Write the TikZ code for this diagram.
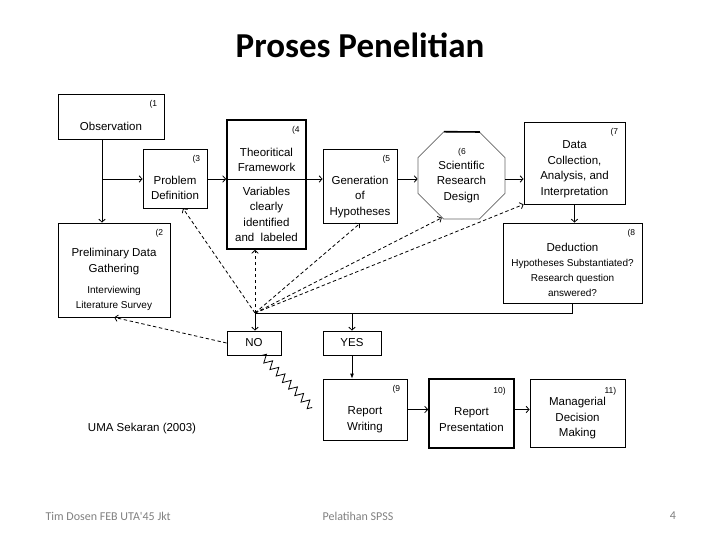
\documentclass[tikz,border=0pt]{standalone}
\usepackage{fontspec}
\setmainfont{Liberation Sans}
\newfontfamily\slidefont{Carlito}
\usetikzlibrary{arrows.meta,shapes.geometric,decorations.pathmorphing}

\begin{document}
\begin{tikzpicture}[
  x=1pt,y=-1pt,
  >={Straight Barb[length=3pt,width=6.5pt]},
  box/.style={draw,line width=0.8pt,inner sep=0pt},
  txt/.style={align=center,inner sep=0pt,font=\fontsize{11.5}{15.5}\selectfont},
  sm/.style={align=center,inner sep=0pt,font=\fontsize{10}{15}\selectfont},
  num/.style={inner sep=0pt,font=\fontsize{8.5}{9}\selectfont},
  arc/.style={->,line width=0.8pt},
  dsh/.style={->,line width=0.8pt,dash pattern=on 3.5pt off 2.5pt},
  foot/.style={font=\slidefont\fontsize{12}{14}\selectfont,text=black!50}
]
\useasboundingbox (0,0) rectangle (720,540);
% title and footer
\node[font=\slidefont\bfseries\fontsize{35}{40}\selectfont] (title) at (360,45) {Proses Penelitian};
\node[foot,anchor=west] (f1) at (42,516) {Tim Dosen FEB UTA'45 Jkt};
\node[foot] (f2) at (358,516) {Pelatihan SPSS};
\node[foot] (f3) at (673,516) {4};

% boxes
\node[box,minimum width=105.5pt,minimum height=45pt] (obs) at (111.25,116.5) {};
\node[box,minimum width=111.5pt,minimum height=94pt] (pre) at (114.25,270) {};
\node[box,minimum width=64pt,minimum height=59pt] (prob) at (175,178.5) {};
\node[box,line width=1.6pt,minimum width=79pt,minimum height=129pt] (theo) at (266.5,184.5) {};
\node[box,minimum width=74pt,minimum height=74pt] (gen) at (360,186) {};
\node[regular polygon,regular polygon sides=8,minimum size=94pt,inner sep=0pt,
  draw=black!60,line width=0.8pt] (oct) at (461.5,175.5) {};
\draw[line width=1.6pt] (oct.112.5) -- (oct.67.5);
\node[box,minimum width=101pt,minimum height=82pt] (data) at (574.5,163) {};
\node[box,minimum width=139pt,minimum height=80pt] (ded) at (572.5,263) {};
\node[box,txt,minimum width=54pt,minimum height=24pt] (no) at (254,343) {NO};
\node[box,txt,minimum width=58pt,minimum height=24pt] (yes) at (352,343) {YES};
\node[box,minimum width=84pt,minimum height=61pt] (rw) at (365,409.5) {};
\node[box,line width=1.6pt,minimum width=85pt,minimum height=69pt] (rp) at (471.5,413.5) {};
\node[box,minimum width=95pt,minimum height=68pt] (md) at (577.5,413) {};

% step numbers
\foreach \b/\n in {obs/1,pre/2,prob/3,theo/4,gen/5,data/7,ded/8,rw/9}
  \node[num,anchor=north east] at ([xshift=-7pt,yshift=-7pt]\b.north east) {(\n};
\node[num,anchor=north east] at ([xshift=-9pt,yshift=-9pt]rp.north east) {10)};
\node[num,anchor=north east] at ([xshift=-9pt,yshift=-9pt]md.north east) {11)};
\node[num] (oct-n) at (462,152) {(6};

% texts
\node[txt] (obs-t) at (111,126) {Observation};
\node[txt] (pre-t) at (114,261.5) {Preliminary Data\\Gathering};
\node[sm] (pre-s) at (114,298.5) {Interviewing\\Literature Survey};
\node[txt] (prob-t) at (175,188) {Problem\\Definition};
\node[txt] (theo-t) at (266.5,160) {Theoritical\\Framework};
\node[txt] (theo-s) at (266.5,214.5) {Variables\\clearly\\identified\\and\ \ labeled};
\node[txt] (gen-t) at (360,197) {Generation\\of\\Hypotheses};
\node[txt] (oct-t) at (461.5,182) {Scientific\\Research\\Design};
\node[txt] (data-t) at (574.5,169) {Data\\Collection,\\Analysis, and\\Interpretation};
\node[sm] (ded-t) at (572.5,269.5) {{\fontsize{11.5}{15}\selectfont Deduction}\\Hypotheses Substantiated?\\Research question\\answered?};
\node[txt] (rw-t) at (365,419.5) {Report\\Writing};
\node[txt] (rp-t) at (471.5,419.5) {Report\\Presentation};
\node[txt] (md-t) at (577.5,418.5) {Managerial\\Decision\\Making};
\node[txt] (src) at (142,429) {UMA Sekaran (2003)};

% connectors
\coordinate (j1) at (102,179);
\coordinate (j2) at (255,313);
\coordinate (zz) at (312,408);
\draw[arc] (obs.south -| j1) -- (pre.north -| j1);
\draw[arc] (j1) -- (j1 -| prob.west);
\draw[arc] (j1 -| prob.east) -- (j1 -| theo.west);
\draw[line width=0.8pt] (j1 -| theo.west) -- (j1 -| theo.east);
\draw[arc] (j1 -| theo.east) -- (j1 -| gen.west);
\draw[arc] (j1 -| gen.east) -- (j1 -| oct.west);
\draw[arc] (j1 -| oct.east) -- (j1 -| data.west);
\draw[arc] (data.south) -- (data.south |- ded.north);
\draw[line width=0.8pt] (ded.south) |- (j2);
\draw[arc] (j2) -- (j2 |- no.north);
\draw[arc] (j2 -| yes) -- (yes);
\draw[-{Latex[length=5pt,width=4pt]},line width=0.8pt] (yes) -- (yes |- rw.north);
\draw[arc] (rw.east) -- (rw.east -| rp.west);
\draw[arc] (rw.east -| rp.east) -- (rw.east -| md.west);
% back to earlier steps
\draw[dsh] (j2) -- ([xshift=8pt]prob.south);
\draw[dsh] (j2) -- (j2 |- theo.south);
\draw[dsh] (j2) -- (gen.south);
\draw[dsh] (j2) -- (oct.245);
\draw[dsh] (j2) -- (data.south west);
\draw[dsh] (no.west) -- (pre.south);
\draw[line width=0.8pt,decorate,decoration={zigzag,segment length=9pt,amplitude=4pt}]
  ([xshift=8pt]no.south) -- (zz);
\end{tikzpicture}
\end{document}
